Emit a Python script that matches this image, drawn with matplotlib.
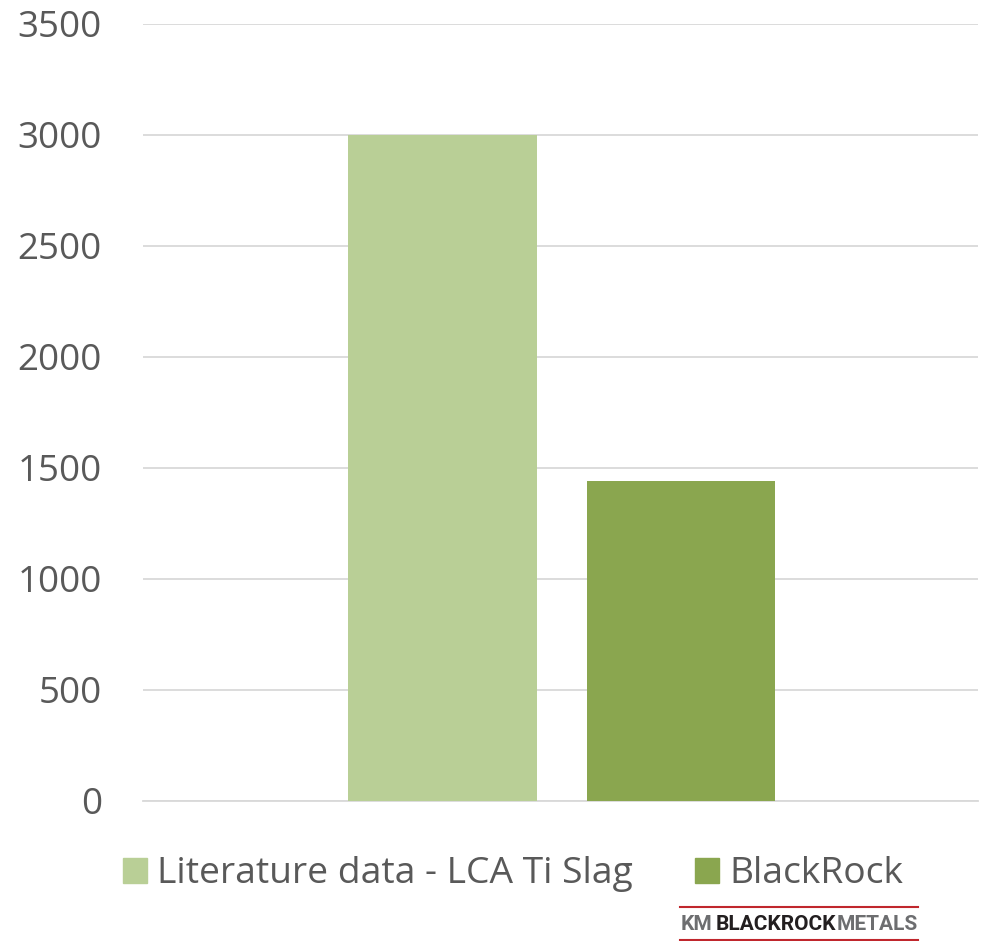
import matplotlib.pyplot as plt
from matplotlib.patches import Patch
from matplotlib.lines import Line2D

series = ['Literature data - LCA Ti Slag', 'BlackRock']
values = [3000, 1440]
colors = ['#B9CF96', '#8AA64F']
yticks = [0, 500, 1000, 1500, 2000, 2500, 3000, 3500]

plt.rcParams['font.family'] = ['Open Sans', 'DejaVu Sans']
text_col = '#595959'

fig = plt.figure(figsize=(9.9, 9.41), dpi=100)
ax = fig.add_axes([0.1444, 0.1488, 0.8434, 0.8257])

for i, (name, val, col) in enumerate(zip(series, values, colors)):
    ax.bar(i, val, width=0.79, color=col, label=name, zorder=3)

ax.set_xlim(-1.256, 2.245)
ax.set_ylim(0, 3500)
ax.set_yticks(yticks)
ax.set_yticklabels([str(t) for t in yticks], fontsize=26.5, color=text_col)
ax.set_xticks([])
ax.tick_params(axis='y', length=0, pad=29.5)
ax.grid(axis='y', color='#D9D9D9', linewidth=1.3, zorder=0)
for s in ['top', 'right', 'left']:
    ax.spines[s].set_visible(False)
ax.spines['bottom'].set_color('#D9D9D9')
ax.spines['bottom'].set_linewidth(1.3)

handles = [Patch(color=c) for c in colors]
leg = fig.legend(handles, series, loc='center', bbox_to_anchor=(0.518, 0.071), ncol=2,
                 frameon=False, fontsize=26.8, handlelength=0.65, handleheight=0.65,
                 handletextpad=0.27, columnspacing=1.67, borderaxespad=0, borderpad=0)
for t in leg.get_texts():
    t.set_color(text_col)

# logo at bottom right
logo_font = ['Roboto', 'DejaVu Sans']
fig.add_artist(Line2D([680/990, 918/990], [1 - 907/941, 1 - 907/941], color='#C0272D', lw=1.5))
fig.add_artist(Line2D([680/990, 918/990], [1 - 940/941, 1 - 940/941], color='#C0272D', lw=1.5))
fig.text(681/990, 1 - 924/941, 'KM', fontsize=15, fontweight='bold', color='#6D6E70',
         va='center', ha='left', family=logo_font)
fig.text(716/990, 1 - 924/941, 'BLACKROCK', fontsize=15, fontweight='bold', color='#231F20',
         va='center', ha='left', family=logo_font)
fig.text(918/990, 1 - 924/941, 'METALS', fontsize=15, fontweight='bold', color='#6D6E70',
         va='center', ha='right', family=logo_font)

fig.savefig('out.png', dpi=100)
